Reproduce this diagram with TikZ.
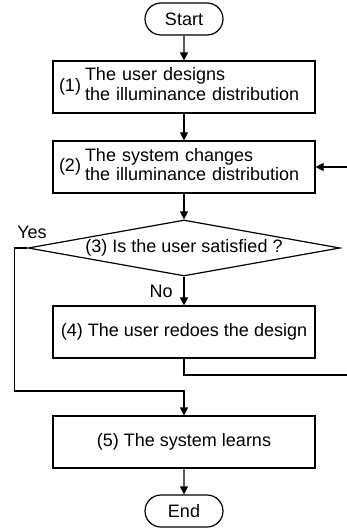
\documentclass[tikz,border=0pt]{standalone}
\usepackage{fontspec}
\setmainfont{Liberation Sans}
\usetikzlibrary{arrows.meta,shapes.geometric,shapes.misc}

\begin{document}
\begin{tikzpicture}[x=0.5pt,y=-0.5pt,font=\fontsize{9}{10}\selectfont,line width=0.6pt,
    flow/.style={-{Triangle[length=4pt,width=4pt]}},
    term/.style={draw,rounded rectangle,minimum width=39pt,minimum height=16pt,inner sep=0pt},
    stepbox/.style={draw,rectangle,minimum width=131pt,minimum height=26pt,inner sep=0pt},
    query/.style={draw,diamond,aspect=5.57,minimum width=156pt,minimum height=28pt,inner sep=0pt}]
    		\newcommand{\colx}{184}
    		\useasboundingbox (0,0) rectangle (347,529);

    		% terminals
    		\node[term] (start) at (\colx,19) {Start};
    		\node[term] (stop) at (\colx,511) {End};

    		% steps
    		\node[stepbox,text width=125pt,align=left] (d1) at (\colx,87)
    		    {(1)\hspace{2pt}\begin{tabular}{@{}l@{}}The user designs\\the illuminance distribution\end{tabular}};
    		\node[stepbox,text width=125pt,align=left] (d2) at (\colx,167)
    		    {(2)\hspace{2pt}\begin{tabular}{@{}l@{}}The system changes\\the illuminance distribution\end{tabular}};
    		\node[query] (q3) at (\colx,248) {(3) Is the user satisfied ?};
    		\node[stepbox] (d4) at (\colx,332) {(4) The user redoes the design};
    		\node[stepbox] (d5) at (\colx,442) {(5) The system learns};

    		% corners
    		\coordinate (yesjoin) at (\colx,391);
    		\coordinate (backjoin) at (\colx,375);
    		\coordinate (backedge) at (352,375);

    		% flow
    		\draw[flow] (start) -- (d1);
    		\draw[flow] (d1) -- (d2);
    		\draw[flow] (d2) -- (q3);
    		\draw[flow] (q3) -- node[left=2pt] (no) {No} (d4);
    		\draw[flow] (q3.west) -- ++(-13,0) |- (yesjoin) -- (d5);
    		\draw[flow] (d4) -- (backjoin) -- (backedge) |- (d2.east);
    		\draw[flow] (d5) -- (stop);
    		\node (yes) at (32,232) {Yes};

\end{tikzpicture}
\end{document}
